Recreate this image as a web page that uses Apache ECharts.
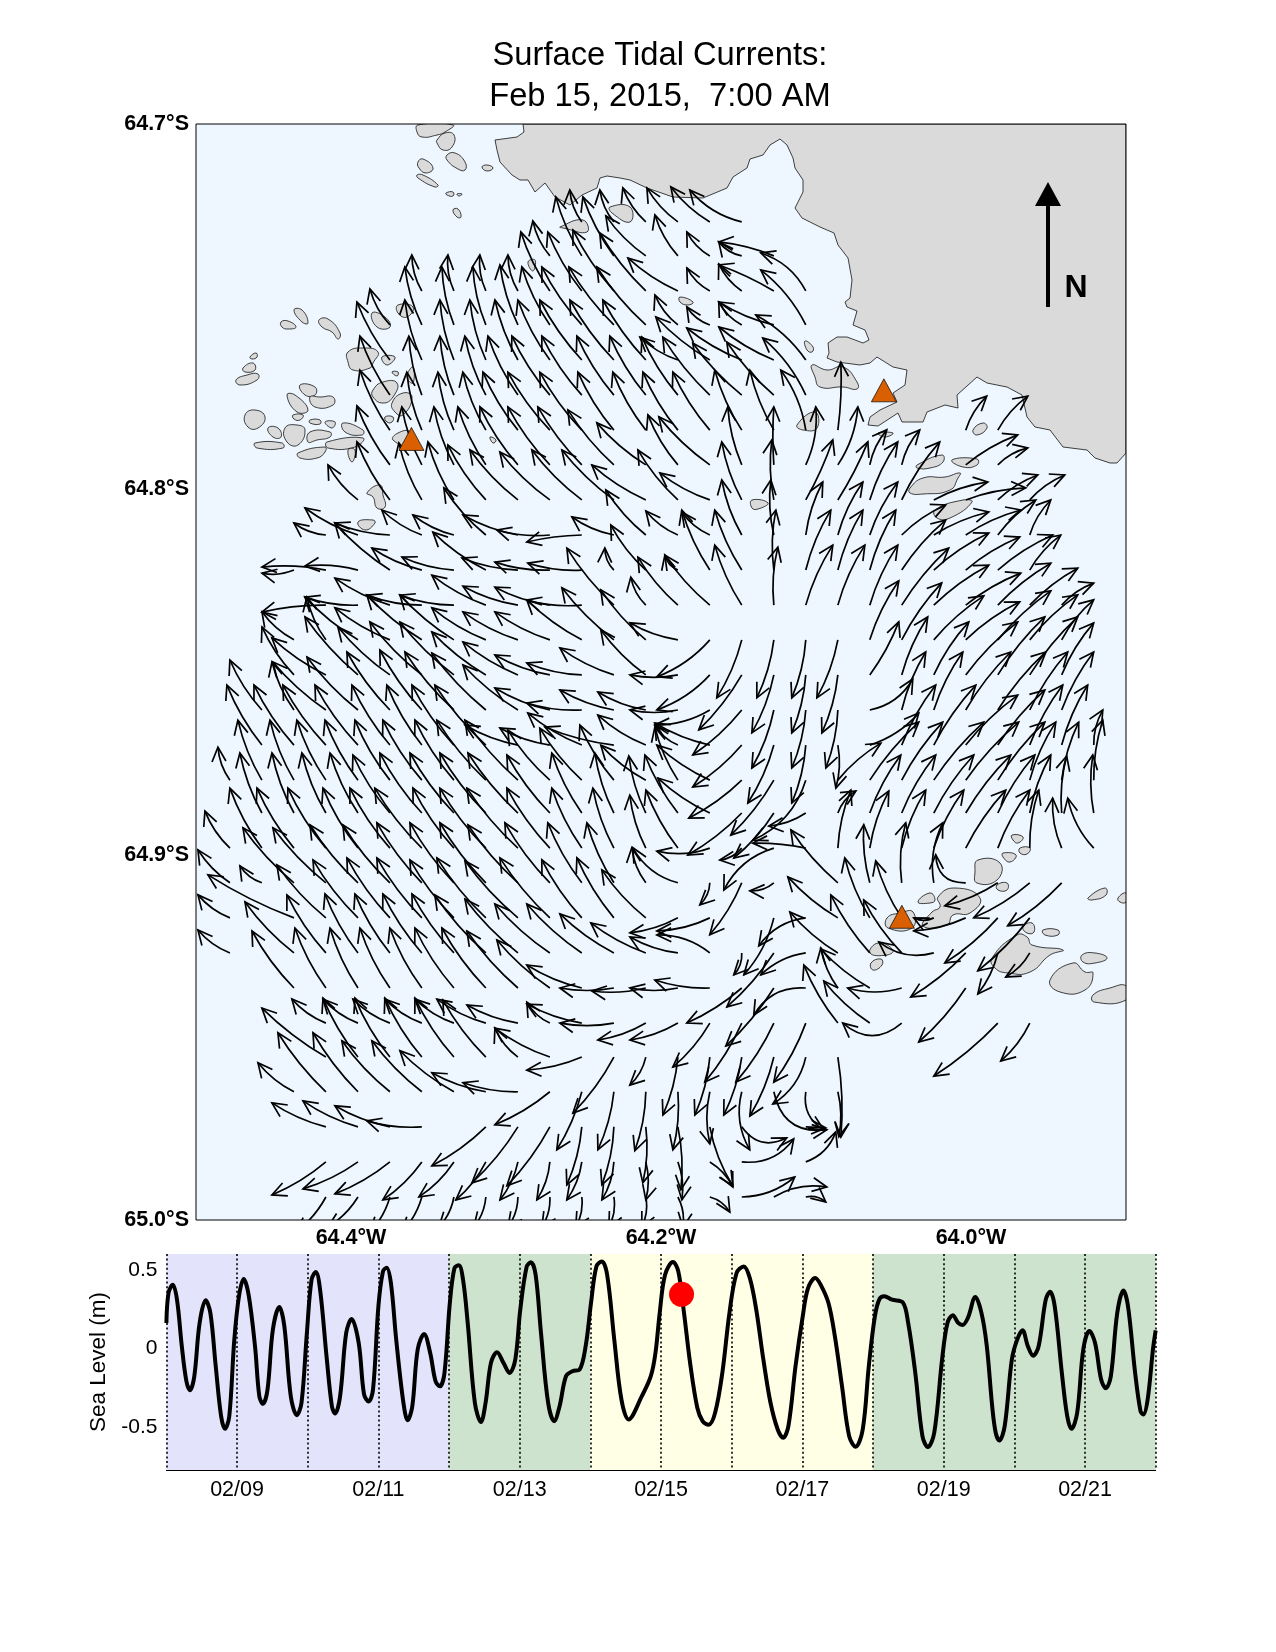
<!DOCTYPE html>
<html><head><meta charset="utf-8">
<style>html,body{margin:0;padding:0;background:#fff}#c{width:1276px;height:1652px}</style>
<script src="https://cdn.jsdelivr.net/npm/echarts@6/dist/echarts.min.js"></script>
</head><body><div id="c"></div>
<script>
// ---------- text & ticks ----------
const titleLines = ['Surface Tidal Currents:', 'Feb 15, 2015,  7:00 AM'];
const lonTicks = [-64.4, -64.2, -64.0];
const latTicks = [-65.0, -64.9, -64.8, -64.7];
const levelTicks = [-0.5, 0, 0.5];
const dayLabels = {1:'02/09',3:'02/11',5:'02/13',7:'02/15',9:'02/17',11:'02/19',13:'02/21'};

// ---------- map sheet: outlines are measured in sheet units from the NW corner (64.5W 64.7S) ----------
const lonPerUnit = 0.6/930, latPerUnit = 0.3/1096;
const land = [327,0,328,8,321,13,299,16,301,26,304,38,316,51,324,56,332,56,339,68,349,59,359,73,374,81,386,71,401,64,404,54,411,52,424,54,434,56,451,64,477,73,507,74,531,64,537,53,551,44,554,35,567,31,574,21,584,15,591,21,597,34,599,44,607,56,607,68,604,74,599,84,606,94,624,103,638,109,642,121,652,134,656,156,654,174,649,178,651,183,661,187,657,201,669,206,673,216,667,219,651,213,641,213,632,219,633,229,631,234,641,238,664,241,674,239,681,233,697,243,711,246,709,261,697,269,701,278,684,286,674,293,672,301,682,302,702,289,706,298,727,298,731,288,749,281,762,284,761,271,781,253,791,259,811,263,826,271,831,293,839,303,854,306,867,323,891,326,899,334,914,339,921,339,930,329,930,0];
const islands = [
[222,1,221,8,226,13,241,11,249,8,257,1],[241,16,249,9,258,11,256,23,247,26,241,19],[251,31,259,29,269,38,269,46,262,45,251,36],[222,38,227,35,237,44,230,49,223,44],[221,51,227,51,242,61,239,63,222,54],[286,43,291,41,297,44,291,47],[250,69,257,68,257,72,251,71],[261,70,266,70,263,72],[257,86,262,85,265,93,261,93],
[85,198,92,197,100,203,92,205,86,203],[98,186,106,186,112,199,106,198],[123,196,132,195,144,209,142,215,136,208,126,203],[152,228,167,224,182,228,177,239,174,244,157,246,152,238],[176,189,189,193,194,203,181,203],[202,181,217,183,211,193,202,189],[186,233,199,233,191,241],[196,248,202,248,201,252],[177,266,187,258,201,259,197,273,187,279,177,273],[196,279,207,269,216,273,207,291,199,288],[211,253,217,243,217,259],[189,293,197,293,196,298,191,298],[202,309,214,308,217,323,197,316],
[40,256,51,251,62,250,61,256,44,261],[47,244,57,239,59,246,49,248],[54,233,60,229,61,233,56,235],[49,291,59,286,69,293,62,304,52,303],[59,319,86,319,87,324,61,324],[72,304,82,304,85,313,77,313],[89,304,101,301,109,306,102,321,91,318],[104,261,119,263,119,271,109,271],[91,271,99,271,112,286,101,288],[114,273,124,273,137,273,137,281,119,283],[97,291,107,291,104,296,98,295],[114,308,134,308,134,313,121,316,112,318],[131,318,167,314,159,323,132,324],[102,329,129,323,129,328,121,334,104,334],[147,299,167,306,166,311,149,308],[152,326,159,326,156,338],[129,298,139,298,136,304],[114,296,124,296,124,300,114,299],[294,313,300,316,297,319],
[364,103,387,96,391,108,367,104],[414,83,434,83,434,98,416,89],[332,138,339,136,337,147],[171,369,184,361,187,371,189,383,181,384,177,373],[162,398,177,396,179,399,169,406],[484,173,497,178,492,181,484,178],[609,217,617,223,616,228,611,226],[616,241,631,246,647,243,661,258,661,265,647,263,624,263,619,253],[601,301,619,288,621,304,607,306],[777,306,787,299,791,304,781,311],[756,336,781,335,781,341,767,343],[721,341,746,331,747,338,734,344,721,344],[714,364,727,354,749,353,764,349,762,354,754,366,727,370,714,369],[682,309,697,309,689,313],[739,386,767,376,776,378,754,394,741,394],[556,376,572,379,562,385,556,384],
[816,711,827,713,822,719,817,716],[807,729,820,731,814,738,807,733],[824,724,834,724,831,730,824,729],[782,736,804,739,801,756,781,759,779,748],[801,761,811,759,811,766,802,766],[722,778,734,769,739,776,734,779],[742,773,759,764,784,774,774,789,757,791,751,801,727,802,736,788,744,783],[892,774,909,764,910,771,896,776],[827,803,836,799,838,808,831,809],[847,806,862,806,862,811,849,811],[796,834,821,811,831,813,836,821,867,826,854,831,834,848,812,849,799,844],[886,831,899,829,911,834,899,839,887,838],[854,856,877,839,889,848,897,849,889,866,864,868],[897,871,914,864,930,862,930,876,898,878],[675,839,685,835,686,841,677,846],[674,829,682,819,697,826,691,831],[691,794,704,789,717,788,716,804,692,804],[922,774,930,769,930,778,924,778]
];
const stations = [[-64.3610,-64.7862],[-64.0562,-64.7729],[-64.0446,-64.9170]];

// ---------- current vectors: tails sit on the model grid; each entry [column, east, north, bend] ----------
const columnLons = [-64.4781,-64.4575,-64.4368,-64.4162,-64.3955,-64.3749,-64.3543,-64.3336,-64.3130,-64.2923,-64.2717,-64.2511,-64.2304,-64.2098,-64.1891,-64.1685,-64.1479,-64.1272,-64.1066,-64.0859,-64.0653,-64.0447,-64.0240,-64.0034,-63.9827,-63.9621,-63.9415,-63.9208];
const rowLats = [-64.7268,-64.7361,-64.7457,-64.7550,-64.7646,-64.7742,-64.7838,-64.7933,-64.8029,-64.8125,-64.8221,-64.8317,-64.8412,-64.8508,-64.8604,-64.8700,-64.8796,-64.8886,-64.8982,-64.9077,-64.9173,-64.9269,-64.9365,-64.9461,-64.9554,-64.9649,-64.9745,-64.9841,-64.9937];
const currentRows = [
[[11,-12,32],[12,-14,32],[13,-23,34],[14,-31,34],[15,-39,35],[16,-52,32,10]],
[[10,-17,35],[11,-26,59],[12,-31,59],[13,-40,40],[14,-23,41],[15,-23,24],[16,-23,14],[17,-55,14,-4]],
[[6,-10,36],[7,-6,36],[8,-6,36],[9,-10,36],[10,-29,59],[11,-34,59],[12,-41,61],[13,-46,58],[14,-50,33],[15,-23,23],[16,-23,27],[17,-55,26,-3],[18,-45,38,-12]],
[[5,-20,36],[6,-17,58],[7,-12,58],[8,-13,58],[9,-18,60],[10,-28,58],[11,-40,58],[12,-45,58],[13,-49,58],[14,-23,30],[15,-23,18],[16,-23,23],[17,-55,23],[18,-45,55,-8]],
[[5,-33,58],[6,-17,60],[7,-14,60],[8,-16,60],[9,-23,60],[10,-32,60],[11,-42,60],[12,-44,60],[13,-43,60],[14,-38,23],[15,-54,43],[16,-55,32],[17,-55,33],[18,-50,45,-8]],
[[5,-30,59],[6,-13,59],[7,-14,59],[8,-21,59],[9,-30,59],[10,-38,59],[11,-40,59],[12,-37,59],[13,-36,59],[14,-36,58],[15,-47,58],[16,-49,52],[17,-47,53],[18,-43,57,-8]],
[[5,-30,60],[6,-15,58],[7,-16,58],[8,-23,58],[9,-35,58],[10,-42,58],[11,-42,58],[12,-36,58],[13,-33,58],[14,-35,58],[15,-37,58],[16,-27,60],[17,-24,60],[18,-25,60,-8],[19,3,68,-3],[23,21,34],[24,30,34]],
[[5,-33,59],[6,-20,58],[7,-20,58],[8,-28,58],[9,-38,58],[10,-42,58],[11,-44,58],[12,-46,55],[13,-49,42],[14,-30,50],[15,-51,48],[16,-14,58],[17,0,58,2],[18,10,58,-8],[19,20,58,-8],[20,17,35],[21,18,35],[23,52,30],[24,30,17]],
[[4,-30,35],[5,-33,58],[6,-23,57],[7,-26,58],[8,-38,55],[9,-48,50],[10,-50,48],[11,-50,50],[12,-52,50],[13,-54,35],[14,-40,50],[15,-50,27],[16,-20,58],[17,-2,60],[18,27,60,-3],[19,30,58,-3],[20,28,58],[21,38,58],[22,54,18],[23,60,12],[24,40,25],[25,35,25]],
[[3,-32,12],[4,-53,27],[5,-55,12],[6,-40,25],[7,-41,20],[8,-42,47],[9,-55,20],[10,-53,5],[11,-55,-7,-3],[12,-42,18],[13,-40,45],[14,-32,24],[15,-28,23],[16,-20,55],[17,-3,55],[18,17,53],[19,25,53],[20,28,53],[21,44,30],[22,55,23],[23,55,25],[24,38,35],[25,21,35]],
[[2,-32,-3],[3,-64,3,-5],[4,-53,4,-5],[5,-55,47],[6,-50,22],[7,-52,13],[8,-53,38],[9,-56,12],[10,-55,8],[11,-54,7],[12,-9,22],[13,-35,45],[14,-13,15],[15,-28,60],[16,-27,60],[17,2,60],[18,25,60],[19,25,60],[20,26,60],[21,44,50],[22,55,37],[23,54,33],[24,55,35],[25,31,35]],
[[3,-64,-7,-4],[4,-53,8],[5,-55,27],[6,-55,10],[7,-54,10],[8,-54,30],[9,-55,19],[10,-55,18],[11,-55,5],[12,-47,57],[13,-15,28],[14,-40,48],[15,-45,50],[16,-27,60],[17,4,58],[18,27,60],[19,27,60],[20,28,60],[21,47,57],[22,55,40],[23,55,32],[24,53,42],[25,48,37],[26,32,22]],
[[2,-32,28],[3,-19,43],[4,-53,43],[5,-55,32],[6,-55,45],[7,-54,45],[8,-54,32],[9,-55,28],[10,-55,28],[11,-55,40],[12,-52,52],[13,-45,50],[14,-48,17],[15,-53,-37,8],[16,-25,-58],[17,-17,-58],[18,-14,-58],[19,-21,-58],[20,29,59],[21,40,57],[22,50,44],[23,54,38],[24,53,49],[25,48,45],[26,32,40]],
[[2,-32,48],[3,-54,37],[4,-53,58],[5,-52,48],[6,-52,53],[7,-54,53],[8,-54,43],[9,-55,33],[10,-55,20],[11,-55,12],[12,-54,27],[13,-45,45],[14,-48,0],[15,-53,-35,8],[16,-43,-55],[17,-22,-58],[18,-14,-58],[19,-16,-58],[20,29,53,-4],[21,26,58],[22,35,53],[23,52,53],[24,47,58],[25,48,58],[26,32,52]],
[[1,-32,50],[2,-22,48],[3,-53,48],[4,-51,53],[5,-43,58],[6,-42,60],[7,-49,58],[8,-54,57],[9,-55,45],[10,-55,22],[11,-55,7],[12,-54,20],[13,-48,18],[14,-48,0],[15,-55,-15,8],[16,-49,-45],[17,-22,-58],[18,-14,-58],[19,-12,-58],[20,43,31,-12],[21,24,58],[22,29,58],[23,45,58],[24,48,58],[25,38,58],[26,32,58]],
[[1,-35,60],[2,-40,60],[3,-43,60],[4,-43,60],[5,-38,60],[6,-35,60],[7,-42,60],[8,-51,60],[9,-53,20],[10,-50,17],[11,-54,32],[12,-69,18],[13,-48,30],[14,-23,20],[15,-55,22],[16,-49,-42],[17,-26,-58],[18,-14,-58],[19,-2,-43],[20,49,32,-8],[21,34,60],[22,42,60],[23,52,50],[24,47,55],[25,33,60],[26,26,60],[27,9,35]],
[[0,-12,33],[1,-24,60],[2,-24,60],[3,-29,60],[4,-33,60],[5,-35,60],[6,-39,60],[7,-39,60],[8,-49,60],[9,-53,60],[10,-42,50],[11,-42,52],[12,-34,55],[13,-45,35],[14,-23,53],[15,-53,35],[16,-53,-38],[17,-43,-55],[18,-53,-60,18],[19,43,37],[20,49,58],[21,41,58],[22,50,58],[23,53,58],[24,47,58],[25,26,58],[26,17,58],[27,9,60]],
[[1,-22,60],[2,-22,60],[3,-24,60],[4,-28,60],[5,-37,58],[6,-42,60],[7,-44,60],[8,-46,60],[9,-50,60],[10,-43,58],[11,-30,60],[12,-19,60],[13,-17,57],[14,-33,58],[15,-52,35],[16,-54,-42],[17,-40,-45],[18,-37,-13],[19,18,22],[20,31,58],[21,34,58],[22,40,58],[23,45,58],[24,37,58],[25,21,58],[26,5,57],[27,-1,58]],
[[0,-25,37],[1,-32,60],[2,-37,60],[3,-38,60],[4,-35,60],[5,-40,60],[6,-47,60],[7,-41,60],[8,-46,60],[9,-51,60],[10,-43,60],[11,-30,60],[12,-21,60],[13,-16,53],[14,-32,58],[15,-53,-3,8],[16,-22,-12],[17,-50,-42,-14],[18,-53,5,-3],[19,13,58],[20,19,57],[21,24,58],[22,30,58],[23,40,58],[24,32,58],[25,9,58],[26,-9,50,6],[27,-26,50,8]],
[[0,-32,33],[1,-22,17],[2,-51,55],[3,-53,55],[4,-48,58],[5,-47,58],[6,-45,60],[7,-44,60],[8,-46,60],[9,-50,58],[10,-45,60],[11,-34,60],[12,-27,60],[13,-14,35],[14,-45,35,12],[15,-10,-22],[16,-32,-52],[17,-24,-8],[19,-47,53],[20,-6,58],[21,4,60,6],[22,9,60,10],[23,-30,28,20],[24,-53,-23],[25,-56,-35],[26,-54,-43]],
[[0,-32,23],[2,-86,43],[3,-49,53],[4,-45,58],[5,-43,60],[6,-45,60],[7,-44,58],[8,-49,60],[9,-53,57],[10,-50,60],[11,-40,58],[12,-37,60],[13,-44,48],[14,-48,-15],[15,-53,-13,6],[17,-30,-57,8],[18,-47,-28,-12],[19,-50,41],[20,-25,60],[21,-26,57],[22,-20,0],[23,-52,-13],[24,-53,-45],[25,-52,-53]],
[[0,-32,23],[2,-49,51],[3,-39,58],[4,-33,59],[5,-35,59],[6,-39,59],[7,-42,59],[8,-51,58],[9,-53,54],[10,-55,49],[11,-55,49],[12,-54,39],[13,-55,30],[14,-48,16],[15,-53,18,-10],[16,-8,-22],[17,-47,-54],[18,-45,-22,-8],[19,-48,41],[20,-39,58],[21,-38,53],[22,-55,11,14],[23,-55,-44],[24,-20,-41],[25,-24,-24]],
[[2,-42,57],[3,-31,60],[4,-28,60],[5,-30,60],[6,-32,60],[7,-39,60],[8,-44,60],[9,-51,57],[10,-53,48],[11,-55,23],[12,-54,0],[13,-54,-3],[14,-48,0],[15,-55,8],[16,-55,-35],[17,-48,-58],[18,-52,-27,-18],[19,-17,40],[20,-49,39],[21,-54,0,8],[23,-47,-54]],
[[3,-34,24],[4,-35,24],[5,-37,24],[6,-37,24],[7,-39,24],[8,-49,24],[9,-51,18],[10,-23,21],[11,-55,19],[12,-54,0],[13,-48,-17],[14,-48,-17],[15,-37,-44],[16,-37,-59],[17,-38,-59],[18,-32,-59],[19,-34,58],[20,-46,42],[21,-59,0,25],[24,-64,-53],[25,-29,-38]],
[[3,-64,49],[4,-35,59],[5,-35,59],[6,-37,59],[7,-39,59],[8,-43,57],[9,-23,29],[10,-55,29],[11,-55,-13],[12,-41,-56],[13,-16,-28],[14,-15,-58],[15,-15,-58],[16,-18,-58],[17,-24,-59],[18,-33,-47,12],[19,3,-80]],
[[2,-36,29],[3,-48,59],[4,-45,59],[5,-48,51],[6,-50,51],[7,-54,41],[8,-54,19],[9,-55,9],[10,-55,-33],[11,-25,-58],[12,-16,-58],[13,-11,-59],[14,-5,-58],[15,0,-52,-6],[16,8,-58,-12],[17,53,-38,-30],[18,18,-38,-14],[19,1,-45]],
[[3,-54,24],[4,-55,26],[5,-55,21],[6,-55,6],[8,-54,-39],[9,-46,-56],[10,-43,-59],[11,-15,-58],[12,-12,-58],[13,-3,-56],[14,3,-63],[15,23,-59,-6],[16,45,-11,-20],[18,20,-1,0]],
[[3,-54,-33],[4,-55,-27],[5,-55,-32],[6,-39,-38],[7,-35,-35],[8,-30,-38],[9,-18,-38],[10,-13,-38],[11,-15,-38],[12,-12,-38],[13,0,-38],[14,4,-38],[15,23,-25],[16,52,23,-16],[18,30,30,-10]],
[[3,-30,-35],[4,-30,-30],[5,-20,-35],[6,-20,-35],[7,-15,-30],[8,-12,-30],[9,-10,-30],[10,-8,-30],[11,-6,-30],[12,-5,-30],[13,-4,-30],[14,5,-30],[15,20,-15],[16,53,20,-10],[17,53,10,10],[18,20,-5]]
];
const usualBend = 5;

// ---------- sea level time series ----------
const seasons = [[0,4,0],[4,6,1],[6,10,2],[10,14,1]];
const seasonColors = ['#e3e3fb','#cde3cd','#ffffe6'];
const seaDays = [0,.03,.09,.15,.218,.283,.334,.395,.47,.556,.622,.698,.774,.83,.89,.961,1.027,1.093,1.163,1.254,1.315,1.366,1.431,1.507,1.598,1.669,1.76,1.846,1.912,1.988,2.054,2.114,2.175,2.266,2.342,2.387,2.458,2.544,2.62,2.721,2.797,2.863,2.924,3,3.065,3.116,3.177,3.252,3.354,3.414,3.48,3.556,3.647,3.733,3.809,3.87,3.935,4.011,4.077,4.138,4.198,4.264,4.365,4.451,4.517,4.593,4.679,4.77,4.856,4.937,5.008,5.099,5.159,5.225,5.301,5.402,5.488,5.564,5.655,5.746,5.847,5.933,6.009,6.085,6.161,6.237,6.338,6.439,6.54,6.728,6.855,6.921,6.981,7.057,7.169,7.244,7.325,7.411,7.513,7.588,7.674,7.765,7.867,7.968,8.069,8.17,8.256,8.347,8.448,8.549,8.651,8.727,8.802,8.903,9.005,9.08,9.182,9.258,9.369,9.46,9.561,9.662,9.753,9.854,9.94,10.026,10.092,10.158,10.269,10.421,10.497,10.598,10.699,10.775,10.866,10.977,11.053,11.129,11.205,11.266,11.342,11.448,11.534,11.61,11.686,11.736,11.787,11.863,11.964,12.04,12.115,12.191,12.267,12.343,12.444,12.505,12.571,12.672,12.748,12.808,12.889,12.975,13.061,13.142,13.228,13.294,13.365,13.456,13.542,13.608,13.709,13.785,13.825,13.886,13.961,14];
const seaLevels = [.161,.352,.405,.309,.013,-.21,-.267,-.178,.161,.305,.225,-.114,-.432,-.513,-.432,.055,.331,.441,.341,.013,-.305,-.354,-.263,.119,.263,.14,-.305,-.426,-.347,.097,.436,.485,.373,-.051,-.369,-.415,-.305,.097,.186,.034,-.294,-.339,-.263,.267,.489,.513,.415,.055,-.347,-.458,-.369,-.008,.091,-.03,-.21,-.242,-.157,.288,.511,.528,.436,.161,-.347,-.47,-.347,-.093,-.025,-.093,-.157,-.072,.246,.521,.547,.468,.097,-.347,-.464,-.369,-.178,-.146,-.136,.013,.288,.521,.553,.468,.055,-.326,-.453,-.305,-.178,-.03,.225,.468,.549,.489,.225,-.093,-.379,-.464,-.487,-.411,-.157,.225,.479,.521,.447,.246,-.072,-.347,-.517,-.57,-.496,-.114,.203,.383,.447,.405,.288,.076,-.242,-.559,-.627,-.517,-.114,.203,.314,.331,.309,.292,.161,-.157,-.559,-.629,-.538,-.072,.161,.21,.161,.148,.193,.326,.225,.013,-.369,-.538,-.587,-.496,-.072,.055,.114,.013,-.047,.013,.309,.36,.267,-.157,-.432,-.513,-.411,-.008,.11,.034,-.199,-.254,-.178,.225,.367,.267,-.157,-.4,-.422,-.326,-.008,.114];
const currentMoment = [7.29, 0.343];

// ---------- build tables ----------
const toLonLat = o => { const p=[]; for(let i=0;i<o.length;i+=2) p.push([-64.5+o[i]*lonPerUnit, -64.7-o[i+1]*latPerUnit]); return p; };
const outlines = [land].concat(islands).map(toLonLat);
const vectors = [];
currentRows.forEach((row,r)=>row.forEach(a=>vectors.push([columnLons[a[0]],rowLats[r],a[1],a[2],a[3]===undefined?usualBend:a[3]])));
const seaLine = seaDays.map((d,i)=>[d,seaLevels[i]]);

const chart = echarts.init(document.getElementById('c'),null,{renderer:'canvas'});
const SANS = '"Liberation Sans", Arial, sans-serif';
chart.setOption({
  animation:false,
  backgroundColor:'#fff',
  title:{text:titleLines.join('\n'),left:655,top:30,textAlign:'center',
    textStyle:{fontFamily:SANS,fontWeight:'normal',fontSize:32.7,lineHeight:41,color:'#000'}},
  grid:[
    {left:196,top:124,width:930,height:1096,show:true,backgroundColor:'#eef7ff',borderWidth:0},
    {left:166.4,top:1254,width:989.3,height:216,show:false}
  ],
  xAxis:[
    {gridIndex:0,type:'value',min:-64.5,max:-63.9,splitLine:{show:false},axisLine:{show:false},axisTick:{show:false},
     axisLabel:{customValues:lonTicks,margin:7,fontFamily:SANS,fontWeight:'bold',fontSize:21.5,color:'#000',
       formatter:v=>Math.abs(v).toFixed(1)+'°W'}},
    {gridIndex:1,type:'value',min:0,max:14,interval:1,z:3,
     splitLine:{show:true,lineStyle:{color:'#000',type:[2,2.6],width:1.6}},
     axisLine:{show:true,onZero:false,lineStyle:{color:'#000',width:1}},axisTick:{show:false},
     axisLabel:{margin:9,fontFamily:SANS,fontSize:21.5,color:'#000',formatter:v=>dayLabels[v]||'',showMinLabel:false,showMaxLabel:false,hideOverlap:false}}
  ],
  yAxis:[
    {gridIndex:0,type:'value',min:-65,max:-64.7,splitLine:{show:false},axisLine:{show:false},axisTick:{show:false},
     axisLabel:{customValues:latTicks,margin:7,fontFamily:SANS,fontWeight:'bold',fontSize:21.5,color:'#000',
       formatter:v=>Math.abs(v).toFixed(1)+'°S'}},
    {gridIndex:1,type:'value',min:-0.775,max:0.6,splitLine:{show:false},axisLine:{show:false},axisTick:{show:false},
     name:'Sea Level (m)',nameLocation:'middle',nameGap:52,nameTextStyle:{fontFamily:SANS,fontSize:22.5,color:'#000'},
     axisLabel:{customValues:levelTicks,margin:9,fontFamily:SANS,fontSize:21,color:'#000',
       formatter:v=>v===0?'0':String(v)}}
  ],
  series:[
    {type:'custom',name:'land',xAxisIndex:0,yAxisIndex:0,z:2,silent:true,clip:true,
     data:outlines.map((o,i)=>[o[0][0],o[0][1],i]),encode:{x:0,y:1},
     renderItem:(p,api)=>{const i=api.value(2);return {type:'polygon',
       shape:{points:outlines[i].map(c=>api.coord(c)),smooth:i===0?0:0.5},
       style:{fill:'#dadada',stroke:'#111',lineWidth:0.8}};}},
    {type:'custom',name:'currents',xAxisIndex:0,yAxisIndex:0,z:3,silent:true,clip:true,
     data:vectors,encode:{x:0,y:1},
     renderItem:(p,api)=>{
       const lon=api.value(0),lat=api.value(1);
       const a=api.coord([lon,lat]);
       const b=api.coord([lon+api.value(2)*lonPerUnit,lat+api.value(3)*latPerUnit]);
       const dx=b[0]-a[0],dy=b[1]-a[1],L=Math.hypot(dx,dy)||1,bend=api.value(4);
       const cx=(a[0]+b[0])/2+bend*dy/L,cy=(a[1]+b[1])/2-bend*dx/L;
       const ang=Math.atan2(b[1]-cy,b[0]-cx),hl=16,hw=0.45;
       const s={fill:null,stroke:'#000',lineWidth:1.7};
       return {type:'group',children:[
         {type:'bezierCurve',shape:{x1:a[0],y1:a[1],x2:b[0],y2:b[1],cpx1:cx,cpy1:cy},style:s},
         {type:'polyline',shape:{points:[
           [b[0]-hl*Math.cos(ang-hw),b[1]-hl*Math.sin(ang-hw)],b,
           [b[0]-hl*Math.cos(ang+hw),b[1]-hl*Math.sin(ang+hw)]]},style:s}
       ]};
     }},
    {type:'scatter',name:'stations',xAxisIndex:0,yAxisIndex:0,z:4,silent:true,data:stations,symbol:'triangle',symbolSize:[25,23],
     itemStyle:{color:'#d95f00',borderColor:'#000',borderWidth:0.7,opacity:1}},
    {type:'custom',name:'frame',xAxisIndex:0,yAxisIndex:0,z:5,silent:true,data:[[-64.5,-65]],encode:{x:0,y:1},
     renderItem:(p,api)=>{const a=api.coord([-64.5,-64.7]),b=api.coord([-63.9,-65]);
       return {type:'rect',shape:{x:a[0],y:a[1],width:b[0]-a[0],height:b[1]-a[1]},style:{fill:null,stroke:'#000',lineWidth:1}};}},
    {type:'custom',name:'seasons',xAxisIndex:1,yAxisIndex:1,z:1,silent:true,data:seasons,encode:{x:[0,1]},
     renderItem:(p,api)=>{const a=api.coord([api.value(0),0.6]),b=api.coord([api.value(1),-0.775]);
       return {type:'rect',shape:{x:a[0],y:a[1],width:b[0]-a[0],height:b[1]-a[1]},style:{fill:seasonColors[api.value(2)]}};}},
    {type:'line',name:'Sea level',xAxisIndex:1,yAxisIndex:1,z:4,silent:true,data:seaLine,showSymbol:false,smooth:0.35,
     lineStyle:{color:'#000',width:4}},
    {type:'scatter',name:'now',xAxisIndex:1,yAxisIndex:1,z:5,silent:true,data:[currentMoment],symbol:'circle',symbolSize:25,itemStyle:{color:'#ff0000',opacity:1}}
  ],
  graphic:[
    {type:'line',z:10,silent:true,shape:{x1:1048,y1:307,x2:1048,y2:200},style:{stroke:'#000',lineWidth:4}},
    {type:'polygon',z:10,silent:true,shape:{points:[[1048,182],[1061,206],[1035,206]]},style:{fill:'#000'}},
    {type:'text',z:10,silent:true,style:{x:1076,y:288,text:'N',fill:'#000',font:'bold 32px "Liberation Sans"',textAlign:'center',textVerticalAlign:'middle'}}
  ]
});
</script></body></html>
